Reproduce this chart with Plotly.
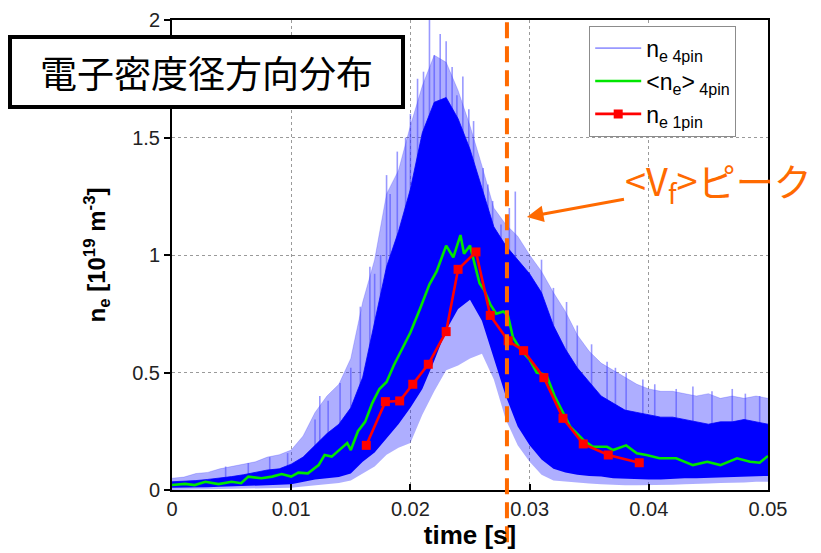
import numpy as np
import plotly.graph_objects as go

# ---- data -------------------------------------------------------------
# time base of the 4-pin envelope [s]
t_env = [i * 0.001 for i in range(51)]

# dense core of the 4-pin signal (upper / lower edge) [1e19 m^-3]
core_hi = [0.035, 0.037, 0.040, 0.045, 0.050, 0.057, 0.065, 0.075, 0.085, 0.090,
           0.11, 0.14, 0.19, 0.24, 0.28, 0.35, 0.48, 0.72, 0.95, 1.10,
           1.28, 1.52, 1.65, 1.67, 1.58, 1.45, 1.28, 1.12, 1.04, 0.98,
           0.92, 0.84, 0.70, 0.60, 0.52, 0.46, 0.40, 0.37, 0.34, 0.33,
           0.32, 0.31, 0.31, 0.30, 0.29, 0.28, 0.29, 0.29, 0.30, 0.29, 0.28]
core_lo = [0.010, 0.010, 0.012, 0.012, 0.014, 0.015, 0.016, 0.018, 0.020, 0.022,
           0.025, 0.035, 0.045, 0.050, 0.055, 0.070, 0.12, 0.16, 0.22, 0.28,
           0.35, 0.43, 0.55, 0.68, 0.77, 0.81, 0.72, 0.56, 0.40, 0.27,
           0.19, 0.13, 0.09, 0.075, 0.065, 0.060, 0.057, 0.050, 0.048, 0.045,
           0.045, 0.045, 0.048, 0.050, 0.050, 0.052, 0.055, 0.055, 0.058, 0.060, 0.060]

# outer reach of the fluctuations (upper / lower)
tip_hi = [0.05, 0.055, 0.07, 0.075, 0.09, 0.10, 0.11, 0.12, 0.14, 0.15,
          0.17, 0.23, 0.33, 0.40, 0.45, 0.56, 0.80, 0.98, 1.26, 1.36,
          1.55, 1.72, 1.85, 1.82, 1.70, 1.55, 1.38, 1.20, 1.13, 1.08,
          1.00, 0.93, 0.84, 0.76, 0.66, 0.59, 0.54, 0.51, 0.48, 0.45,
          0.43, 0.42, 0.42, 0.41, 0.40, 0.41, 0.39, 0.40, 0.39, 0.40, 0.39]
tip_lo = [0.0, 0.0, 0.002, 0.003, 0.004, 0.005, 0.006, 0.007, 0.008, 0.009,
          0.010, 0.015, 0.020, 0.025, 0.030, 0.040, 0.07, 0.10, 0.15, 0.18,
          0.20, 0.32, 0.42, 0.51, 0.53, 0.56, 0.58, 0.47, 0.30, 0.19,
          0.12, 0.065, 0.040, 0.035, 0.030, 0.028, 0.025, 0.022, 0.020, 0.020,
          0.020, 0.020, 0.022, 0.025, 0.025, 0.028, 0.030, 0.030, 0.032, 0.035, 0.035]

# individual large spikes of the 4-pin signal (time, peak value)
spike_t = [0.0045, 0.0064, 0.0082, 0.0097, 0.0120, 0.0124, 0.0131, 0.0141, 0.0150,
           0.0158, 0.0166, 0.0170, 0.0175, 0.0180, 0.0183, 0.0189, 0.0196, 0.0200,
           0.0206, 0.0211, 0.0216, 0.0220, 0.0225, 0.0230, 0.0235, 0.0239, 0.0244,
           0.0249, 0.0253, 0.0261, 0.0265, 0.0269, 0.0276, 0.0283, 0.0288, 0.0310,
           0.0320, 0.0331, 0.0340, 0.0352, 0.0365, 0.0372, 0.0381, 0.0395, 0.0405,
           0.0423, 0.0437, 0.0453, 0.0470, 0.0481, 0.0493]
spike_v = [0.10, 0.115, 0.14, 0.157, 0.30, 0.40, 0.38, 0.455, 0.52,
           0.78, 0.95, 0.92, 1.00, 1.34, 1.26, 1.44, 1.50, 1.60,
           1.75, 1.78, 2.00, 1.85, 1.94, 1.91, 1.80, 1.68, 1.76,
           1.62, 1.57, 1.37, 1.30, 1.23, 1.13, 1.20, 1.27, 0.98,
           0.86, 0.80, 0.70, 0.62, 0.546, 0.52, 0.50, 0.47, 0.45,
           0.43, 0.44, 0.42, 0.43, 0.41, 0.40]

# averaged 4-pin density
t_avg = [0, 0.0011, 0.0019, 0.0028, 0.0039, 0.0050, 0.0058, 0.0064, 0.0075, 0.0084,
         0.0092, 0.0100, 0.0106, 0.0114, 0.0123, 0.0128, 0.0134, 0.0140, 0.0147, 0.0150,
         0.0156, 0.0162, 0.0168, 0.0174, 0.0180, 0.0186, 0.0191, 0.0200, 0.0208, 0.0216,
         0.0222, 0.0230, 0.0236, 0.0242, 0.0245, 0.0250, 0.0255, 0.0258, 0.0262, 0.0267,
         0.0272, 0.0278, 0.0282, 0.0286, 0.0292, 0.0300, 0.0306, 0.0314, 0.0321, 0.0328,
         0.0334, 0.0345, 0.0353, 0.0365, 0.0370, 0.0381, 0.0390, 0.0398, 0.0409, 0.0423,
         0.0437, 0.0449, 0.0460, 0.0474, 0.0485, 0.0493, 0.0500]
ne_avg = [0.021, 0.026, 0.021, 0.035, 0.025, 0.035, 0.029, 0.057, 0.050, 0.057,
          0.068, 0.057, 0.074, 0.071, 0.106, 0.149, 0.142, 0.170, 0.200, 0.170,
          0.250, 0.290, 0.370, 0.430, 0.460, 0.530, 0.580, 0.670, 0.770, 0.875,
          0.930, 1.040, 0.990, 1.085, 1.005, 1.040, 0.940, 0.880, 0.850, 0.790,
          0.750, 0.760, 0.740, 0.650, 0.600, 0.555, 0.500, 0.490, 0.400, 0.326,
          0.270, 0.213, 0.184, 0.184, 0.170, 0.190, 0.156, 0.149, 0.135, 0.135,
          0.106, 0.120, 0.106, 0.135, 0.120, 0.116, 0.145]

# single-pin density
t_1pin = [0.0163, 0.0179, 0.0191, 0.0202, 0.0215, 0.0230, 0.0240, 0.0255,
          0.0267, 0.0282, 0.0295, 0.0312, 0.0328, 0.0345, 0.0366, 0.0392]
ne_1pin = [0.190, 0.376, 0.379, 0.450, 0.535, 0.674, 0.939, 1.013,
           0.743, 0.635, 0.593, 0.478, 0.305, 0.196, 0.149, 0.116]

t_vf_peak = 0.0281          # time of the <Vf> peak [s]
x_ticks = [0, 0.01, 0.02, 0.03, 0.04, 0.05]
y_ticks = [0, 0.5, 1, 1.5, 2]

# ---- styling ------------------------------------------------------------
BLUE = "#0000FF"
BLUE_LIGHT = "rgba(30,30,255,0.36)"
GREEN = "#00E600"
RED = "#FF0000"
ORANGE = "#FF6A00"
LATIN = "Arial, Liberation Sans, sans-serif"
CJK = "Noto Sans CJK JP, sans-serif"

fig = go.Figure()

# pale band reached by the fluctuations
fig.add_trace(go.Scatter(x=t_env, y=tip_lo, mode="lines", line=dict(width=0),
                         showlegend=False, hoverinfo="skip"))
fig.add_trace(go.Scatter(x=t_env, y=tip_hi, mode="lines", line=dict(width=0.6, color=BLUE_LIGHT),
                         fill="tonexty", fillcolor=BLUE_LIGHT, showlegend=False))

# individual spikes rising out of the dense core
spike_base = np.interp(spike_t, t_env, core_hi) * 0.85
sx, sy = [], []
for t, b, v in zip(spike_t, spike_base, spike_v):
    sx += [t, t, None]
    sy += [float(b), v, None]
fig.add_trace(go.Scatter(x=sx, y=sy, mode="lines", line=dict(width=1.6, color="rgba(70,70,255,0.55)"),
                         name="n<sub>e 4pin</sub>"))

# dense core of the signal
fig.add_trace(go.Scatter(x=t_env, y=core_lo, mode="lines", line=dict(width=0),
                         showlegend=False, hoverinfo="skip"))
fig.add_trace(go.Scatter(x=t_env, y=core_hi, mode="lines", line=dict(width=0.8, color=BLUE),
                         fill="tonexty", fillcolor=BLUE, showlegend=False))

fig.add_trace(go.Scatter(x=t_avg, y=ne_avg, mode="lines", line=dict(color=GREEN, width=2.6),
                         name="&lt;n<sub>e</sub>&gt;<sub> 4pin</sub>"))
fig.add_trace(go.Scatter(x=t_1pin, y=ne_1pin, mode="lines+markers",
                         line=dict(color=RED, width=2.6),
                         marker=dict(symbol="square", size=9, color=RED),
                         name="n<sub>e 1pin</sub>"))

# <Vf> peak marker line, running down through the axis title
fig.add_shape(type="line", xref="x", yref="paper", x0=t_vf_peak, x1=t_vf_peak,
              y0=-0.111, y1=1.0, layer="above",
              line=dict(color=ORANGE, width=4, dash="16px,8px"))

fig.add_annotation(x=0.02978, y=1.162, xref="x", yref="y",
                   text="&lt;V<sub>f</sub>&gt;ピーク", showarrow=True,
                   ax=192, ay=-35, arrowhead=2, arrowsize=1.1, arrowwidth=3,
                   arrowcolor=ORANGE, font=dict(family=CJK, size=38, color=ORANGE))

# title box
fig.add_shape(type="rect", xref="paper", yref="paper",
              x0=-0.2718, x1=0.3876, y0=0.8149, y1=0.9638, layer="above",
              line=dict(color="black", width=4), fillcolor="white")
fig.add_annotation(x=0.0579, y=0.889, xref="paper", yref="paper", showarrow=False,
                   xanchor="center", yanchor="middle",
                   text="電子密度径方向分布", font=dict(family=CJK, size=37, color="black"))

axis_common = dict(showline=True, linecolor="black", linewidth=2, mirror=True,
                   showgrid=True, gridcolor="#9a9a9a", griddash="dot", gridwidth=1,
                   zeroline=False, tickfont=dict(family=LATIN, size=20, color="#222"),
                   tickcolor="black", ticklen=6, tickwidth=1.5)

fig.update_xaxes(range=[0, 0.05], tickvals=x_ticks, ticks="inside",
                 title=dict(text="time [s]", font=dict(family=LATIN, size=26, color="black", weight="bold"),
                            standoff=2),
                 **axis_common)
fig.update_yaxes(range=[0, 2], tickvals=y_ticks, ticks="outside",
                 title=dict(text="n<sub>e</sub> [10<sup>19</sup> m<sup>-3</sup>]",
                            font=dict(family=LATIN, size=24, color="black", weight="bold"),
                            standoff=20),
                 **axis_common)

fig.update_layout(
    width=821, height=553,
    margin=dict(l=172, r=53, t=20, b=63, autoexpand=False),
    plot_bgcolor="white", paper_bgcolor="white",
    legend=dict(x=0.70, y=0.988, xanchor="left", yanchor="top", traceorder="normal",
                bgcolor="white", bordercolor="#8c8c8c", borderwidth=1,
                font=dict(family=LATIN, size=23, color="black"),
                itemwidth=46, tracegroupgap=0),
)

fig.write_html("out.html")
